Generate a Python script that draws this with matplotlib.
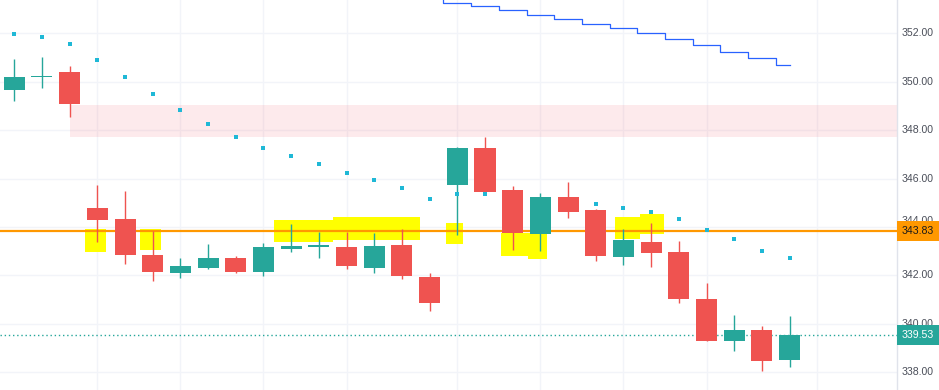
import numpy as np
import matplotlib
matplotlib.use("Agg")
import matplotlib.pyplot as plt
from matplotlib.patches import Rectangle
import matplotlib.transforms as mtransforms

# Candle data (one entry per bar)
opens = [349.65, 350.18, 350.40, 344.80, 344.33, 342.84, 342.10, 342.31, 342.72, 342.14,
         343.10, 343.19, 343.19, 342.30, 343.24, 341.95, 345.75, 347.26, 345.53, 343.72,
         345.25, 344.70, 342.76, 343.38, 342.95, 341.04, 339.28, 339.74, 338.49]
highs = [350.94, 351.03, 350.64, 345.73, 345.49, 343.83, 342.72, 343.30, 342.81, 343.34,
         344.12, 343.80, 343.80, 343.75, 343.92, 342.09, 347.32, 347.72, 345.69, 345.39,
         345.85, 344.76, 343.90, 344.18, 343.43, 341.67, 340.36, 339.92, 340.34]
lows = [349.22, 349.74, 348.53, 343.38, 342.48, 341.76, 341.91, 342.28, 342.09, 341.99,
        342.97, 342.72, 342.25, 342.11, 341.86, 340.54, 343.68, 345.46, 343.05, 343.00,
        344.38, 342.58, 342.44, 342.36, 340.87, 339.28, 338.88, 338.04, 338.24]
closes = [350.21, 350.22, 349.09, 344.30, 342.86, 342.14, 342.40, 342.72, 342.14, 343.16,
          343.21, 343.21, 342.38, 343.21, 341.96, 340.87, 347.26, 345.46, 343.76, 345.25,
          344.62, 342.80, 343.47, 342.94, 341.01, 339.28, 339.74, 338.46, 339.53]

# Parabolic SAR dots
nan = np.nan
sar = [351.98, 351.85, 351.57, 350.91, 350.19, 349.48, 348.82, 348.27, 347.72, 347.28,
       346.93, 346.59, 346.22, 345.93, 345.60, 345.16, 345.35, 345.35, nan, nan,
       nan, 344.94, 344.80, 344.62, 344.32, 343.88, 343.49, 343.01, 342.71]

# Blue step line (starts at bar 15)
step_start = 15
step_vals = [353.45, 353.26, 353.12, 352.95, 352.74, 352.58, 352.40, 352.21, 352.00,
             351.75, 351.52, 351.24, 350.97, 350.68]

# Levels
level_orange = 343.83
last_price = 339.53
zone_start, zone_low, zone_high = 2, 347.73, 349.04

# Hand-drawn highlighter boxes: (x0, x1 in bar units, low, high)
highlights = [
    (2.56, 3.30, 342.98, 343.90),
    (4.54, 5.30, 343.05, 343.92),
    (9.38, 11.51, 343.38, 344.27),
    (11.51, 14.65, 343.48, 344.41),
    (15.59, 16.20, 343.31, 344.16),
    (17.58, 18.62, 342.80, 343.74),
    (18.55, 19.24, 342.69, 343.74),
    (21.69, 22.60, 343.50, 344.40),
    (22.60, 23.45, 343.70, 344.55),
]

price_ticks = [338, 340, 342, 344, 346, 348, 350, 352]
time_grid = [3, 6, 9, 12, 16, 19, 22, 25, 29]

UP = "#26a69a"
DOWN = "#ef5350"
GRID = "#f2f4f9"

fig = plt.figure(figsize=(9.39, 3.9), dpi=100)
ax = fig.add_axes([0, 0, 897 / 939, 1])
ax.set_xlim(-0.516, 31.88)
ax.set_ylim(337.27, 353.375)

for s in ["top", "left", "bottom"]:
    ax.spines[s].set_visible(False)
ax.spines["right"].set_color("#e0e3eb")
ax.spines["right"].set_linewidth(1)
ax.set_xticks([])
ax.set_yticks([])

# grid
for p in price_ticks:
    ax.axhline(p, color=GRID, lw=1, zorder=0)
for t in time_grid:
    ax.axvline(t, color=GRID, lw=1, zorder=0)

# pink zone
ax.add_patch(Rectangle((zone_start, zone_low), 40, zone_high - zone_low,
                       facecolor="#f23645", alpha=0.1, lw=0, zorder=1))

# yellow highlights
for x0, x1, lo, hi in highlights:
    ax.add_patch(Rectangle((x0, lo), x1 - x0, hi - lo, facecolor="#ffff00",
                           lw=0, zorder=2))

# orange level and last price line
ax.axhline(level_orange, color="#ff9800", lw=1.6, zorder=3)
ax.axhline(last_price, color=UP, lw=1, ls=(0, (1, 2)), zorder=3)

# candles
x = np.arange(len(opens))
o = np.array(opens)
c = np.array(closes)
colors = [UP if cc >= oo else DOWN for oo, cc in zip(o, c)]
ax.vlines(x, lows, highs, colors=colors, lw=1, zorder=4)
body_bottom = np.minimum(o, c)
body_h = np.maximum(np.abs(c - o), 0.06)
ax.bar(x, body_h, bottom=body_bottom, width=0.76, color=colors, lw=0, zorder=5)

# SAR dots
ax.plot(x, sar, ls="none", marker="s", ms=2.4, color="#1fb8d6", mew=0, zorder=6)

# step line
sx = np.arange(step_start, step_start + len(step_vals))
ax.step(sx, step_vals, where="mid", color="#2962ff", lw=0.9, zorder=6)

# right price scale
ytrans = ax.get_yaxis_transform()
for p in price_ticks:
    tr = ytrans
    if p == 344:
        # sits just above the orange level label, only its top shows
        tr = mtransforms.offset_copy(ytrans, fig=fig, x=0, y=6, units="dots")
    ax.text(1.0234, p, f"{p:.2f}", transform=tr, ha="center", va="center",
            fontsize=7.6, family="Liberation Sans", color="#4a4e59", clip_on=False,
            zorder=1)

box_w = 939 / 897 - 1.0
box_h = 0.42
for val, fc, tc in [(level_orange, "#ff9800", "#1a1a1a"), (last_price, UP, "white")]:
    ax.add_patch(Rectangle((1.0, val - box_h), box_w, 2 * box_h, transform=ytrans,
                           facecolor=fc, lw=0, clip_on=False, zorder=7))
    ax.text(1.0234, val, f"{val:.2f}", transform=ytrans, ha="center", va="center",
            fontsize=7.6, family="Liberation Sans", color=tc, clip_on=False, zorder=8)

fig.savefig("out.png", dpi=100)
plt.close(fig)
